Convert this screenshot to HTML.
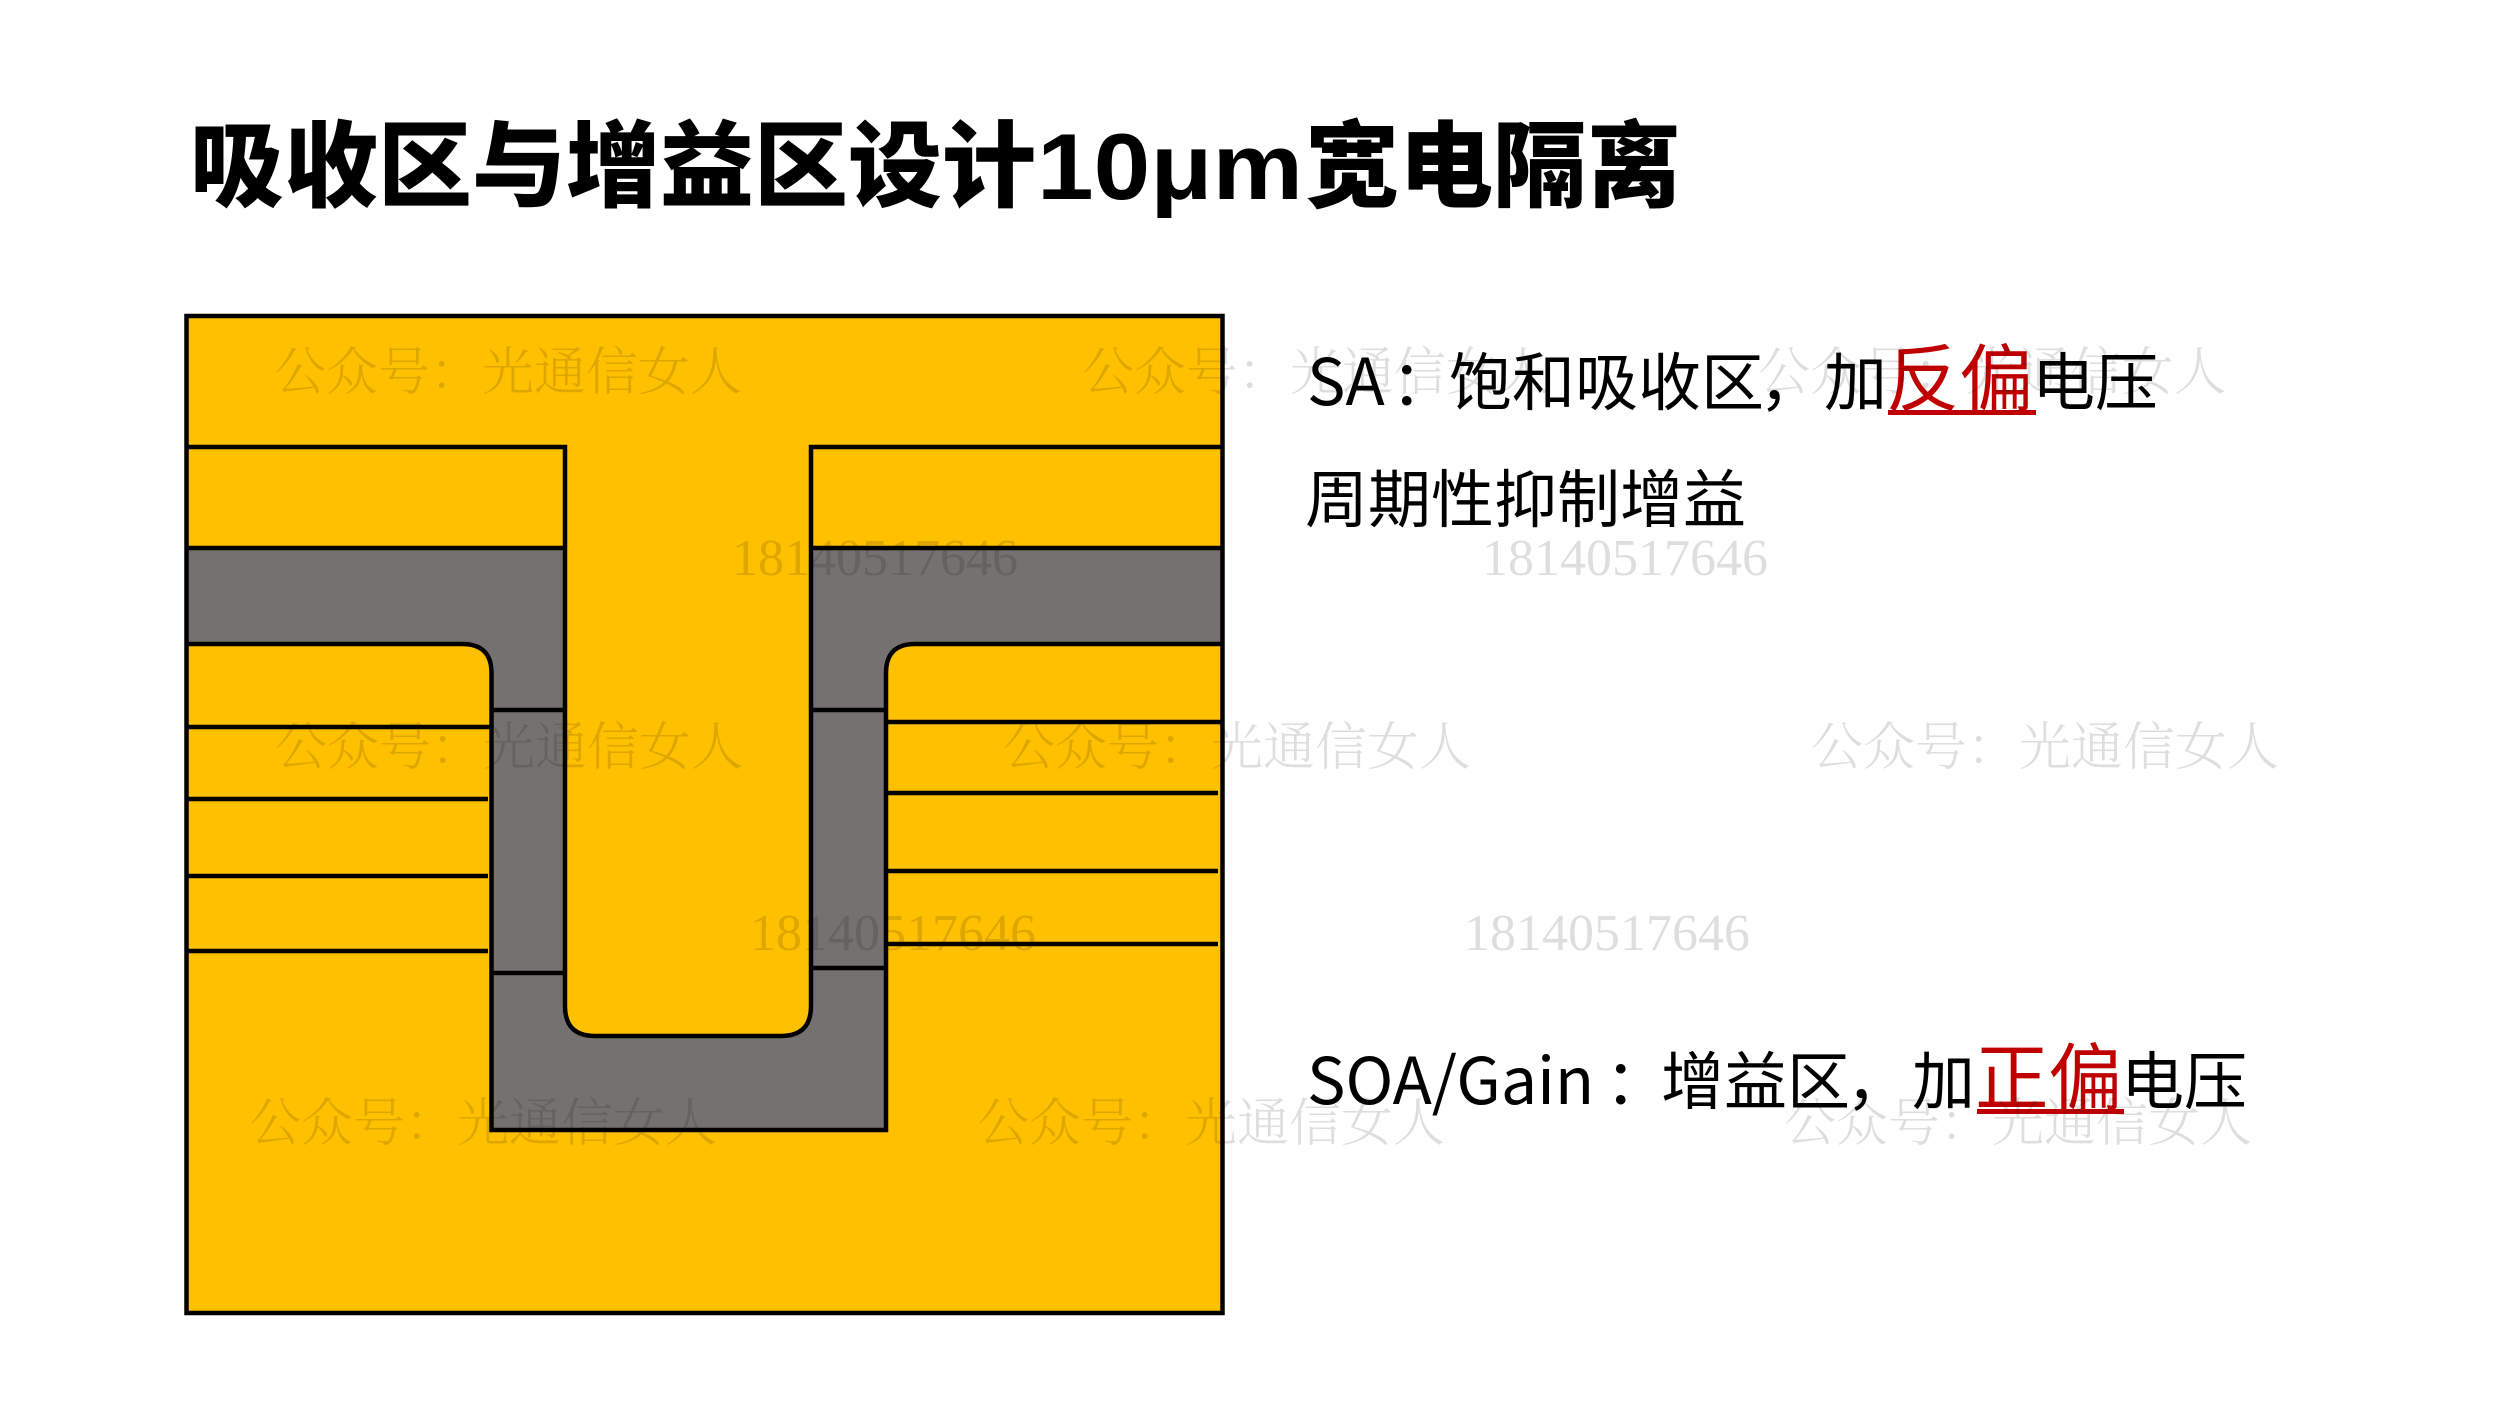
<!DOCTYPE html>
<html lang="zh"><head><meta charset="utf-8"><title>吸收区与增益区设计10μm宽电隔离</title>
<style>html,body{margin:0;padding:0;background:#fff;width:2500px;height:1406px;overflow:hidden}svg{display:block}
.t{font-family:"Liberation Sans","Noto Sans CJK SC",sans-serif;font-weight:900;font-size:94px;fill:#000}
.b{font-family:"Noto Sans CJK SC",sans-serif;font-size:63px;fill:#000;font-weight:400}
.l{font-size:64.5px}
.r{font-family:"Noto Sans CJK SC",sans-serif;font-size:73.5px;fill:#c00000;font-weight:400}
.w{font-family:"Liberation Serif","Noto Serif CJK SC",serif;font-size:52px;fill:#000;fill-opacity:.13;font-weight:300}
.s{fill:none;stroke:#000;stroke-width:4.500}
</style></head><body>
<svg width="2500" height="1406" viewBox="0 0 2500 1406" xmlns="http://www.w3.org/2000/svg">
<text class="t" x="190" y="199">吸收区与增益区设计</text>
<text class="t" x="1037" y="199" textLength="266" lengthAdjust="spacingAndGlyphs" style='font-family:"Liberation Sans",sans-serif;font-weight:700'>10μm</text>
<text class="t" x="1305" y="199">宽电隔离</text>

<rect x="186.500" y="316" width="1036" height="997" fill="#ffc000"/>
<path d="M186.500 548H565V1006Q565 1036 595 1036H781Q811 1036 811 1006V548H1222.500V644H915Q886 644 886 673V1130H491.500V673Q491.500 644 462 644H186.500Z" fill="#767171"/>
<path class="s" d="M186.500 447H565V1006Q565 1036 595 1036H781Q811 1036 811 1006V447H1222.500"/>
<path class="s" d="M186.500 548H565M811 548H1222.500"/>
<path class="s" d="M186.500 644H462Q491.500 644 491.500 673V1130H886V673Q886 644 915 644H1222.500"/>
<path class="s" d="M491.500 710H565M491.500 973H565M811 710H886M811 968H886"/>
<path class="s" d="M186.500 727H491.500M186.500 799H488M186.500 876H488M186.500 951H488"/>
<path class="s" d="M886 722H1222.500M886 793H1218M886 871H1218M886 944H1218"/>
<rect class="s" x="186.500" y="316" width="1036" height="997"/>

<text class="b l" x="1307" y="405">SA</text>
<text class="b" x="1391" y="405">：</text>
<text class="b" x="1449" y="405">饱和吸收区</text>
<text class="b" x="1759" y="405">，</text>
<text class="b" x="1824" y="405">加</text>
<text class="r" x="1886" y="405">反偏</text>
<rect x="1888" y="410" width="148" height="5" fill="#c00000"/>
<text class="b" x="2032" y="405">电压</text>
<text class="b" x="1305" y="522">周期性抑制增益</text>

<text class="b l" x="1307" y="1104">SOA/Gain</text>
<text class="b" x="1605" y="1104">：</text>
<text class="b" x="1661" y="1104">增益区</text>
<text class="b" x="1846" y="1104">，</text>
<text class="b" x="1912" y="1104">加</text>
<text class="r" x="1975" y="1104">正偏</text>
<rect x="1977" y="1109" width="147" height="5" fill="#c00000"/>
<text class="b" x="2121" y="1104">电压</text>

<g>
<text class="w" x="274" y="390">公众号：光通信女人</text>
<text class="w" x="1082" y="390">公众号：光通信女人</text>
<text class="w" x="1758" y="390">公众号：光通信女人</text>
<text class="w" x="275" y="765">公众号：光通信女人</text>
<text class="w" x="1003" y="765">公众号：光通信女人</text>
<text class="w" x="1811" y="765">公众号：光通信女人</text>
<text class="w" x="249" y="1141">公众号：光通信女人</text>
<text class="w" x="977" y="1141">公众号：光通信女人</text>
<text class="w" x="1784" y="1141">公众号：光通信女人</text>
<text class="w" x="732" y="575">18140517646</text>
<text class="w" x="1482" y="575">18140517646</text>
<text class="w" x="750" y="950">18140517646</text>
<text class="w" x="1464" y="950">18140517646</text>
</g>
</svg>
</body></html>
